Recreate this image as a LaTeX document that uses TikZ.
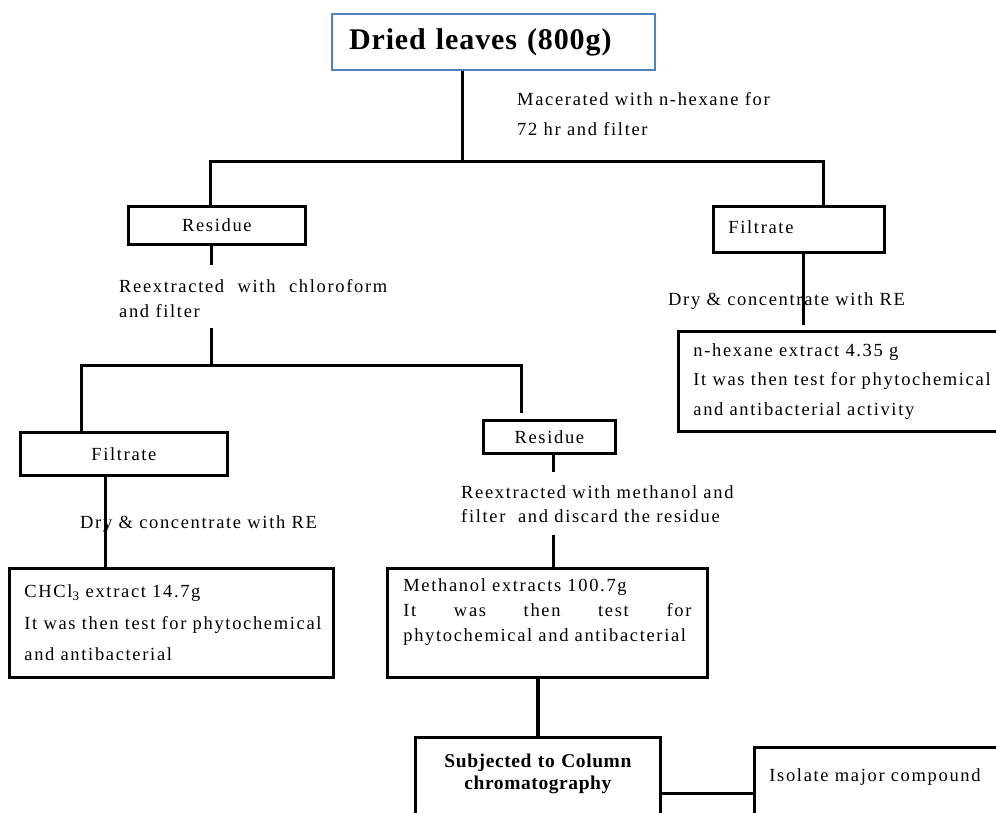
\documentclass[tikz,border=0pt]{standalone}
\usepackage{fontspec}
\setmainfont{Liberation Serif}[LetterSpace=9]
\newfontfamily\titlefont{Liberation Serif}[LetterSpace=3]
\definecolor{leafblue}{RGB}{79,129,189}
\begin{document}
\begin{tikzpicture}[x=1pt,y=-1pt,
    box/.style={draw,line width=2.8pt,inner sep=0pt,anchor=north west,
        font=\fontsize{18.5}{25}\selectfont},
    conn/.style={line width=3pt},
    note/.style={inner sep=0pt,anchor=north west,align=left,
        font=\fontsize{18.5}{25}\selectfont},
]
\useasboundingbox (0,0) rectangle (996,812);
\clip (0,0) rectangle (996,812);
% Ausgangsmaterial
\node[box,draw=leafblue,line width=2pt,minimum width=323,minimum height=56,
    text width=289,inner xsep=17,align=left,font=\titlefont\fontsize{30}{32}\bfseries]
    (leaves) at (331,13) {Dried leaves (800g)};
\node[note,font=\fontsize{18.5}{30}\selectfont] (macer) at (517,92)
    {Macerated with n-hexane for\\72 hr and filter};
% erste Verzweigung
\coordinate (b1l) at (210,161);
\coordinate (b1m) at (462,161);
\coordinate (b1r) at (823,161);
\node[box,minimum width=177,minimum height=38] (res1) at (127,205) {Residue};
\node[box,minimum width=171,minimum height=46,text width=141,inner xsep=15,
    align=left] (fil1) at (712,205) {\raisebox{4pt}{Filtrate}};
\draw[conn] (leaves.south -| b1m) -- (b1m);
\draw[conn] (res1.north -| b1l) -- (b1l) -- (b1r) -- (fil1.north -| b1r);
% n-Hexan-Extrakt
\coordinate (f1x) at (803,325);
\node[note] (dry1) at (668,292) {Dry \& concentrate with RE};
\draw[conn] (fil1.south -| f1x) -- (f1x);
\node[box,minimum width=360,minimum height=100,text width=330,inner xsep=15,
    align=left,font=\fontsize{18.5}{29.5}\selectfont] (hex) at (677,330)
    {n-hexane extract 4.35 g\\It was then test for phytochemical\\and antibacterial activity};
% Chloroform
\coordinate (r1a) at (211,265);
\coordinate (r1b) at (211,328);
\coordinate (b2l) at (81,365);
\coordinate (b2m) at (211,365);
\coordinate (b2r) at (521,365);
\coordinate (r2a) at (521,413);
\draw[conn] (res1.south -| r1a) -- (r1a);
\node[note] (chlor) at (119,279)
    {\makebox[268pt][s]{Reextracted\hfill with\hfill chloroform}\\and filter};
\draw[conn] (r1b) -- (b2m);
\node[box,minimum width=207,minimum height=43] (fil2) at (19,431) {Filtrate};
\node[box,minimum width=132,minimum height=33] (res2) at (482,419) {Residue};
\draw[conn] (fil2.north -| b2l) -- (b2l) -- (b2r) -- (r2a);
% CHCl3-Extrakt
\coordinate (f2x) at (105,500);
\node[note] (dry2) at (80,515) {Dry \& concentrate with RE};
\node[box,minimum width=324,minimum height=109,text width=294,inner xsep=14,
    align=left,font=\fontsize{18.5}{31.5}\selectfont] (chcl) at (8,567)
    {CHCl\textsubscript{3} extract 14.7g\\\mbox{It was then test for phytochemical}\\and antibacterial};
\draw[conn] (fil2.south -| f2x) -- (chcl.north -| f2x);
% Methanol-Extrakt
\coordinate (r2b) at (553,472);
\coordinate (r2c) at (553,535);
\draw[conn] (res2.south -| r2b) -- (r2b);
\node[note,font=\fontsize{18.5}{24}\selectfont] (meoh) at (461,485)
    {Reextracted with methanol and\\filter\ \ and discard the residue};
\node[box,minimum width=320,minimum height=109,text width=288,inner xsep=16,
    align=left] (meth) at (386,567)
    {Methanol extracts 100.7g\\\makebox[288pt][s]{It\hfill was\hfill then\hfill test\hfill for}\\phytochemical and antibacterial\\\mbox{}};
\draw[conn] (r2c) -- (meth.north -| r2c);
% Saeulenchromatographie
\coordinate (mx) at (538,700);
\node[box,minimum width=245,minimum height=112,text width=245,align=center,
    font=\titlefont\fontsize{19.5}{22}\bfseries] (col) at (414,736)
    {Subjected to Column\\chromatography\\\mbox{}\\\mbox{}};
\draw[conn,line width=4pt] (meth.south -| mx) -- (col.north -| mx);
\node[box,minimum width=257,minimum height=106,text width=227,inner xsep=15,
    align=left] (iso) at (753,746) {Isolate major compound\\\mbox{}\\\mbox{}};
\draw[conn] (col.east) -- (iso.west |- col.east);
\end{tikzpicture}
\end{document}
